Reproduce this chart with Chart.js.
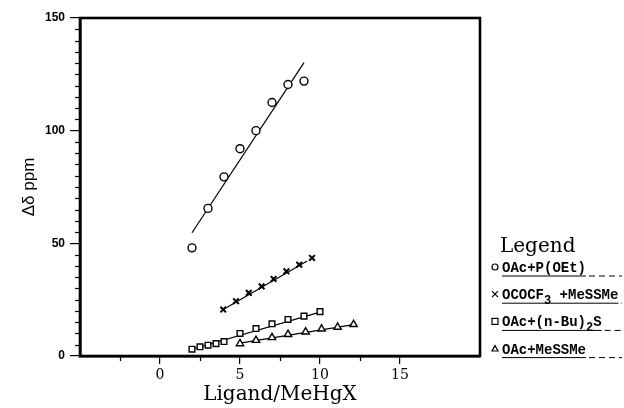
<!DOCTYPE html>
<html><head><meta charset="utf-8">
<script src="https://cdn.jsdelivr.net/npm/chart.js@4"></script>
<style>html,body{margin:0;padding:0;background:#fff}#wrap{width:624px;height:408px;position:relative}</style>
</head><body><div id="wrap"><canvas id="c"></canvas></div>
<script>
// ---- data ----
const circleX = [2, 3, 4, 5, 6, 7, 8, 9];
const circleY = [48, 65.5, 79.5, 92, 100, 112.5, 120.5, 122];
const circleFitX = [2, 9];
const circleFitY = [54.7, 130.2];

const crossX = [3.95, 4.75, 5.55, 6.35, 7.1, 7.9, 8.7, 9.5];
const crossY = [20.6, 24.3, 28, 30.9, 34.2, 37.6, 40.5, 43.5];
const crossFitX = [3.95, 9.2];
const crossFitY = [20.6, 42.2];

const squareX = [2, 2.5, 3, 3.5, 4, 5, 6, 7, 8, 9, 10];
const squareY = [3.0, 4.1, 4.8, 5.5, 6.4, 10.0, 12.2, 14.3, 16.2, 17.7, 19.7];
const squareFitX = [2, 10];
const squareFitY = [3.0, 19.5];

const triangleX = [5, 6, 7, 8, 9.1, 10.1, 11.1, 12.1];
const triangleY = [5.5, 7.0, 8.2, 9.6, 10.7, 12.0, 12.8, 14.0];
const triangleFitX = [5, 12.1];
const triangleFitY = [5.7, 13.9];

const legendTitle = 'Legend';
const legendLabels = ['OAc+P(OEt)', 'OCOCF_3 +MeSSMe', 'OAc+(n-Bu)_2S', 'OAc+MeSSMe'];
const xTickLabels = {0: '0', 5: '5', 10: '10', 15: '15'};
const yTickLabels = {0: '0', 50: '50', 100: '100', 150: '150'};
const xMinorTicks = [-2.5, 2.5, 7.5, 12.5];
const yMinorTicks = [5,10,15,20,25,30,35,40,45,55,60,65,70,75,80,85,90,95,105,110,115,120,125,130,135,140,145];
const xTitle = 'Ligand/MeHgX';
const yTitle = 'Δδ ppm';

function pts(xs, ys) { return xs.map((x, i) => ({x, y: ys[i]})); }

const seriesDefs = [
  {x: circleX, y: circleY, fx: circleFitX, fy: circleFitY, style: 'circle', r: 4},
  {x: crossX, y: crossY, fx: crossFitX, fy: crossFitY, style: 'crossRot', r: 4},
  {x: squareX, y: squareY, fx: squareFitX, fy: squareFitY, style: 'rect', r: 4},
  {x: triangleX, y: triangleY, fx: triangleFitX, fy: triangleFitY, style: 'triangle', r: 4.2}
];

const datasets = [];
seriesDefs.forEach((s, i) => {
  datasets.push({
    label: legendLabels[i] + ' fit', data: pts(s.fx, s.fy), showLine: true,
    borderColor: '#000', borderWidth: 1.2, pointRadius: 0, order: 2, fill: false
  });
  datasets.push({
    label: legendLabels[i], data: pts(s.x, s.y), showLine: false,
    pointStyle: s.style, pointRadius: s.r, pointBorderWidth: s.style === 'crossRot' ? 2 : 1.4,
    borderColor: '#000', backgroundColor: '#fff', order: 1, legendIndex: i
  });
});

const framePlugin = {
  id: 'frame',
  afterDraw(chart) {
    const {ctx, chartArea: a, scales: {x, y}} = chart;
    ctx.save();
    ctx.strokeStyle = '#000';
    ctx.lineWidth = 1.2;
    yMinorTicks.forEach(v => {
      const py = Math.round(y.getPixelForValue(v)) + 0.5;
      ctx.beginPath(); ctx.moveTo(a.left - 5, py); ctx.lineTo(a.left, py); ctx.stroke();
    });
    xMinorTicks.forEach(v => {
      const px = Math.round(x.getPixelForValue(v)) + 0.5;
      ctx.beginPath(); ctx.moveTo(px, a.bottom); ctx.lineTo(px, a.bottom + 5); ctx.stroke();
    });
    ctx.lineWidth = 2.6;
    ctx.strokeRect(a.left, a.top, a.right - a.left, a.bottom - a.top);
    ctx.restore();
  }
};

function drawMarker(ctx, style, cx, cy, r) {
  ctx.beginPath();
  if (style === 'circle') { ctx.arc(cx, cy, r, 0, Math.PI * 2); ctx.stroke(); }
  else if (style === 'rect') { ctx.strokeRect(cx - r, cy - r, 2 * r, 2 * r); }
  else if (style === 'triangle') {
    ctx.moveTo(cx, cy - r); ctx.lineTo(cx + r, cy + r * 0.8); ctx.lineTo(cx - r, cy + r * 0.8); ctx.closePath(); ctx.stroke();
  } else {
    ctx.moveTo(cx - r, cy - r); ctx.lineTo(cx + r, cy + r); ctx.moveTo(cx + r, cy - r); ctx.lineTo(cx - r, cy + r); ctx.stroke();
  }
}

const legendPlugin = {
  id: 'customLegend',
  afterDraw(chart) {
    const ctx = chart.ctx;
    const a = chart.chartArea;
    const x0 = a.right + 20;
    ctx.save();
    ctx.fillStyle = '#000';
    ctx.strokeStyle = '#000';
    ctx.font = '20px "DejaVu Serif"';
    ctx.textBaseline = 'alphabetic';
    ctx.fillText(legendTitle, x0, 252);
    const items = chart.data.datasets.filter(d => d.legendIndex !== undefined);
    items.forEach((d, i) => {
      const cy = 267 + i * 27.2;
      ctx.lineWidth = 1.2;
      drawMarker(ctx, d.pointStyle, x0 - 5, cy, 3);
      let tx = x0 + 2;
      const base = cy + 5;
      const parts = d.label.split(/_(\d)/);
      parts.forEach((p, k) => {
        if (k % 2 === 1) {
          ctx.font = 'bold 12px "Liberation Mono"';
          ctx.fillText(p, tx, base + 5);
          tx += ctx.measureText(p).width;
        } else {
          ctx.font = 'bold 14px "Liberation Mono"';
          ctx.fillText(p, tx, base);
          tx += ctx.measureText(p).width;
        }
      });
      ctx.lineWidth = 1;
      ctx.beginPath(); ctx.moveTo(x0 + 2, base + 4); ctx.lineTo(tx, base + 4); ctx.stroke();
      ctx.setLineDash([6, 4]);
      ctx.beginPath(); ctx.moveTo(tx + 3, base + 4); ctx.lineTo(622, base + 4); ctx.stroke();
      ctx.setLineDash([]);
    });
    ctx.restore();
  }
};

new Chart(document.getElementById('c'), {
  type: 'scatter',
  data: {datasets},
  options: {
    responsive: true, maintainAspectRatio: false, animation: false,
    layout: {padding: {left: 10, right: 144, top: 18, bottom: 0}},
    plugins: {legend: {display: false}, tooltip: {enabled: false}},
    scales: {
      x: {
        type: 'linear', min: -5, max: 20,
        afterFit: s => { s.height = 52; },
        border: {display: true, color: '#000', width: 2.6},
        grid: {drawOnChartArea: false, color: '#000', lineWidth: 1.2, tickLength: 8,
          tickColor: c => (c.tick && (c.tick.value === -5 || c.tick.value === 20)) ? 'rgba(0,0,0,0)' : '#000'},
        ticks: {stepSize: 5, color: '#000', padding: 3, maxRotation: 0, autoSkip: false,
          font: {family: 'DejaVu Serif', size: 14},
          callback: v => xTickLabels[v] !== undefined ? xTickLabels[v] : ''},
        title: {display: true, text: xTitle, color: '#000', font: {family: 'DejaVu Serif', size: 20}, padding: {top: 0, bottom: 1}}
      },
      y: {
        type: 'linear', min: 0, max: 150,
        afterFit: s => { s.width = 70; },
        border: {display: true, color: '#000', width: 2.6},
        grid: {drawOnChartArea: false, color: '#000', lineWidth: 1.2, tickLength: 10, tickColor: '#000'},
        ticks: {stepSize: 50, color: '#000', padding: 5,
          font: {family: 'Liberation Sans', size: 12, weight: 'bold'},
          callback: v => yTickLabels[v] !== undefined ? yTickLabels[v] : ''},
        title: {display: true, text: yTitle, color: '#000', font: {family: 'Liberation Sans', size: 17}, padding: {top: 9, bottom: 0}}
      }
    }
  },
  plugins: [framePlugin, legendPlugin]
});
</script>
</body></html>
